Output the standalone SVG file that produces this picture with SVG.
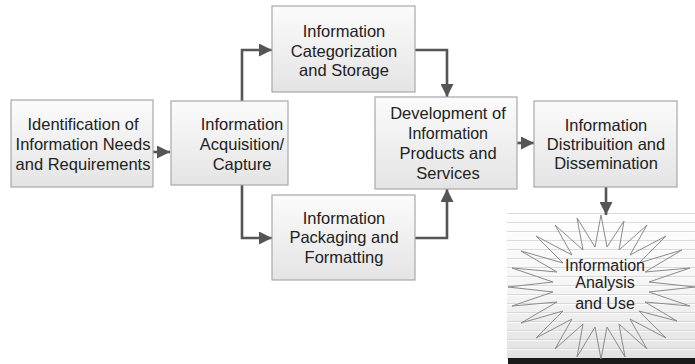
<svg xmlns="http://www.w3.org/2000/svg" width="695" height="364" viewBox="0 0 695 364">
  <defs>
    <linearGradient id="boxFill" x1="0" y1="0" x2="0" y2="1">
      <stop offset="0" stop-color="#fbfbfb"/>
      <stop offset="1" stop-color="#e4e4e4"/>
    </linearGradient>
    <linearGradient id="panelFill" x1="0" y1="0" x2="0" y2="1">
      <stop offset="0" stop-color="#ffffff"/>
      <stop offset="0.55" stop-color="#f4f4f4"/>
      <stop offset="1" stop-color="#e2e2e2"/>
    </linearGradient>
    <marker id="arrow" markerUnits="userSpaceOnUse" markerWidth="13" markerHeight="13" viewBox="0 0 12 12" refX="12" refY="6" orient="auto">
      <path d="M0,0 L12,6 L0,12 Z" fill="#555"/>
    </marker>
    <pattern id="stripes" patternUnits="userSpaceOnUse" x="0" y="213" width="10" height="9">
      <rect x="0" y="0" width="10" height="1" fill="#cfcfcf"/>
      <rect x="0" y="1" width="10" height="1" fill="#ffffff"/>
    </pattern>
  </defs>
  <style>
    .box { fill: url(#boxFill); stroke: #a8a8a8; stroke-width: 1.2; }
    .lbl { font-family: "Liberation Sans", Arial, sans-serif; font-size: 16.5px; fill: #222; text-anchor: middle; }
    .star-lbl { font-size: 16px; }
    .conn { fill: none; stroke: #555; stroke-width: 2.6; marker-end: url(#arrow); }
  </style>

  <rect width="695" height="364" fill="#ffffff"/>

  <!-- Backdrop behind the burst: striped panel with dark base bar -->
  <g id="burst-panel">
    <rect x="507" y="213" width="188" height="146" fill="url(#panelFill)"/>
    <rect x="507" y="213" width="188" height="140" fill="url(#stripes)" opacity="0.75"/>
    <rect x="508" y="358" width="187" height="6" fill="#1a1a1a"/>
  </g>

  <g id="connectors">
    <path class="conn" d="M153,152 H170"/>
    <path class="conn" d="M242,101 V50 H272"/>
    <path class="conn" d="M415,50 H447 V97"/>
    <path class="conn" d="M242,185 V238 H272"/>
    <path class="conn" d="M415,238 H447 V189"/>
    <path class="conn" d="M517,143 H534"/>
    <path class="conn" d="M606,187 V215"/>
  </g>

  <g id="identification">
    <rect class="box" x="11" y="100" width="142" height="87"/>
    <text class="lbl" x="83" y="130">Identification of</text>
    <text class="lbl" x="83" y="150">Information Needs</text>
    <text class="lbl" x="83" y="170">and Requirements</text>
  </g>

  <g id="acquisition">
    <rect class="box" x="171" y="101" width="117" height="84"/>
    <text class="lbl" x="242" y="130">Information</text>
    <text class="lbl" x="242" y="150">Acquisition/</text>
    <text class="lbl" x="242" y="170">Capture</text>
  </g>

  <g id="categorization">
    <rect class="box" x="272" y="6" width="143" height="86"/>
    <text class="lbl" x="344" y="37">Information</text>
    <text class="lbl" x="344" y="57">Categorization</text>
    <text class="lbl" x="344" y="76">and Storage</text>
  </g>

  <g id="packaging">
    <rect class="box" x="272" y="195" width="143" height="85"/>
    <text class="lbl" x="344" y="224">Information</text>
    <text class="lbl" x="344" y="243">Packaging and</text>
    <text class="lbl" x="344" y="263">Formatting</text>
  </g>

  <g id="development">
    <rect class="box" x="375" y="97" width="142" height="92"/>
    <text class="lbl" x="448" y="119">Development of</text>
    <text class="lbl" x="448" y="139" style="font-size:16px">Information</text>
    <text class="lbl" x="448" y="159">Products and</text>
    <text class="lbl" x="448" y="179">Services</text>
  </g>

  <g id="distribution">
    <rect class="box" x="534" y="101" width="143" height="86"/>
    <text class="lbl" x="606" y="131">Information</text>
    <text class="lbl" x="606" y="150">Distribuition and</text>
    <text class="lbl" x="606" y="169">Dissemination</text>
  </g>

  <g id="analysis">
    <polygon fill="none" stroke="#8a8a8a" stroke-width="1" stroke-linejoin="miter"
      points="601,215 607,247 624,221 619,250 647,225 630,255 666,236 639,263 682,250 645,272 690,268 649,282 695,287 649,292 690,306 645,302 677,321 639,311 666,338 630,319 647,349 619,324 625,357 607,327 601,359 595,327 577,357 583,324 555,349 572,319 536,338 563,311 521,323 557,302 512,306 553,292 508,287 553,282 512,268 557,272 521,251 563,263 536,236 572,255 555,225 583,250 577,218 595,247"/>
    <text class="lbl star-lbl" x="605" y="271">Information</text>
    <text class="lbl star-lbl" x="605" y="288">Analysis</text>
    <text class="lbl star-lbl" x="605" y="309">and Use</text>
  </g>
</svg>
